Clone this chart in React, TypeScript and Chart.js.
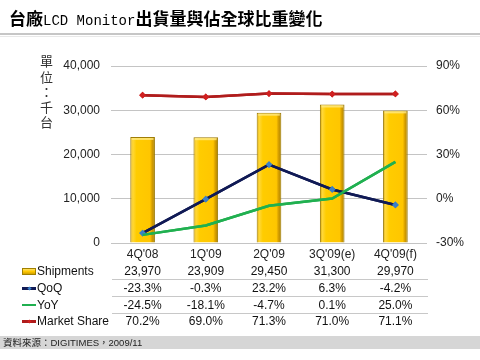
import React, { useEffect, useRef, useState } from "react";
import { Chart, registerables } from "chart.js";

Chart.register(...registerables);

const titleCjk1 = "台廠";
const titleLatin = "LCD Monitor";
const titleCjk2 = "出貨量與佔全球比重變化";
const unitLabel = "單位：千台";
const sourceNote = "資料來源：DIGITIMES，2009/11";

const categories = ["4Q'08", "1Q'09", "2Q'09", "3Q'09(e)", "4Q'09(f)"];
const shipments = [23970, 23909, 29450, 31300, 29970];
const qoq = [-23.3, -0.3, 23.2, 6.3, -4.2];
const yoy = [-24.5, -18.1, -4.7, 0.1, 25.0];
const marketShare = [70.2, 69.0, 71.3, 71.0, 71.1];
const leftTicks = [0, 10000, 20000, 30000, 40000];
const rightTicks = [-30, 0, 30, 60, 90];

const FONT = "'Liberation Sans', Arial, sans-serif";
const CJK = "'Noto Sans CJK TC', 'Noto Sans CJK SC', sans-serif";

const BAR_PCT = 0.39;

const fmtNum = (v: number) => v.toLocaleString("en-US");
const fmtPct = (v: number) => v.toFixed(1) + "%";

type RowDef = { label: string; values: string[]; icon: string };

const rows: RowDef[] = [
  { label: "Shipments", values: shipments.map(fmtNum), icon: "bar" },
  { label: "QoQ", values: qoq.map(fmtPct), icon: "qoq" },
  { label: "YoY", values: yoy.map(fmtPct), icon: "yoy" },
  { label: "Market Share", values: marketShare.map(fmtPct), icon: "ms" },
];

function Icon({ kind }: { kind: string }) {
  const base: React.CSSProperties = { position: "absolute", left: 0, top: 0 };
  if (kind === "bar") {
    return (
      <div style={{ position: "relative", width: 14, height: 10 }}>
        <div
          style={{
            ...base,
            top: 2,
            width: 12,
            height: 5,
            background: "linear-gradient(to bottom, #ffe066, #ffc800 50%, #d0a000)",
            border: "1px solid #a08000",
          }}
        />
      </div>
    );
  }
  const color = kind === "qoq" ? "#101a55" : kind === "yoy" ? "#20b050" : "#b01c1c";
  const marker = kind === "qoq" ? "#3a7fc8" : kind === "ms" ? "#d02020" : null;
  return (
    <div style={{ position: "relative", width: 14, height: 10 }}>
      <div style={{ ...base, top: 4, width: 14, height: 2.5, background: color }} />
      {marker && (
        <div
          style={{
            ...base,
            left: 5.5,
            top: 3.5,
            width: 3,
            height: 3,
            background: marker,
            transform: "rotate(45deg)",
          }}
        />
      )}
    </div>
  );
}

const barCapPlugin = {
  id: "barCap",
  afterDatasetsDraw(chart: any) {
    const meta = chart.getDatasetMeta(3);
    if (!meta || !meta.data) return;
    const ctx = chart.ctx;
    ctx.save();
    meta.data.forEach((el: any) => {
      const w = el.width;
      const x0 = el.x - w / 2;
      ctx.fillStyle = "rgba(255,236,140,0.75)";
      ctx.fillRect(x0 + 1.5, el.y + 1, w - 3, 2);
    });
    ctx.restore();
    // redraw lines over the caps
    [2, 1, 0].forEach((i) => {
      const m = chart.getDatasetMeta(i);
      if (m && m.controller) m.controller.draw();
    });
  },
};

export default function App() {
  const canvasRef = useRef<HTMLCanvasElement | null>(null);
  const [centers, setCenters] = useState<number[]>([]);

  useEffect(() => {
    if (!canvasRef.current) return;
    const barFill = (ctx: any) => {
      const chart = ctx.chart;
      const area = chart.chartArea;
      const xs = chart.scales && chart.scales.x;
      if (!area || !xs) return "#ffc800";
      const cx = xs.getPixelForValue(ctx.dataIndex);
      const w = (area.width / categories.length) * BAR_PCT;
      const g = chart.ctx.createLinearGradient(cx - w / 2, 0, cx + w / 2, 0);
      g.addColorStop(0, "#d9a400");
      g.addColorStop(0.1, "#ffd83a");
      g.addColorStop(0.25, "#ffcc00");
      g.addColorStop(0.8, "#ffc600");
      g.addColorStop(0.88, "#d8a000");
      g.addColorStop(1, "#a88000");
      return g;
    };

    const chart = new Chart(canvasRef.current, {
      type: "bar",
      data: {
        labels: categories,
        datasets: [
          {
            type: "line",
            label: "Market Share",
            data: marketShare,
            yAxisID: "y2",
            borderColor: "#b01c1c",
            borderWidth: 2.5,
            pointRadius: 1.6,
            pointStyle: "rectRot",
            pointBackgroundColor: "#d02020",
            pointBorderColor: "#d02020",
            tension: 0,
            order: 0,
          },
          {
            type: "line",
            label: "YoY",
            data: yoy,
            yAxisID: "y2",
            borderColor: "#20b050",
            borderWidth: 2.5,
            pointRadius: 0,
            tension: 0,
            order: 1,
          },
          {
            type: "line",
            label: "QoQ",
            data: qoq,
            yAxisID: "y2",
            borderColor: "#101a55",
            borderWidth: 2.5,
            pointRadius: 1.6,
            pointStyle: "rectRot",
            pointBackgroundColor: "#3a7fc8",
            pointBorderColor: "#3a7fc8",
            tension: 0,
            order: 2,
          },
          {
            type: "bar",
            label: "Shipments",
            data: shipments,
            yAxisID: "y",
            backgroundColor: barFill,
            borderColor: "#9a7800",
            borderWidth: 1,
            barPercentage: BAR_PCT,
            categoryPercentage: 1,
            order: 3,
          },
        ],
      } as any,
      options: {
        responsive: false,
        animation: false,
        layout: { padding: { top: 66, bottom: 97, left: 0, right: 0 } },
        plugins: { legend: { display: false }, tooltip: { enabled: false } },
        scales: {
          x: {
            grid: { display: false, drawTicks: false },
            border: { display: false },
            ticks: {
              font: { family: FONT, size: 12 },
              color: "#222",
              padding: 4,
              maxRotation: 0,
              autoSkip: false,
            },
            afterFit: (s: any) => {
              s.height = 20;
            },
          },
          y: {
            position: "left",
            min: 0,
            max: 40000,
            afterBuildTicks: (s: any) => {
              s.ticks = leftTicks.map((v) => ({ value: v }));
            },
            ticks: {
              callback: (v: any) => fmtNum(Number(v)),
              font: { family: FONT, size: 12 },
              color: "#222",
              padding: 11,
            },
            grid: { color: "#c4c4c4", drawTicks: false, lineWidth: 1 },
            border: { display: false },
            afterFit: (s: any) => {
              s.width = 111;
            },
          },
          y2: {
            position: "right",
            min: -30,
            max: 90,
            afterBuildTicks: (s: any) => {
              s.ticks = rightTicks.map((v) => ({ value: v }));
            },
            ticks: {
              callback: (v: any) => v + "%",
              font: { family: FONT, size: 12 },
              color: "#222",
              padding: 9,
            },
            grid: { display: false, drawTicks: false },
            border: { display: false },
            afterFit: (s: any) => {
              s.width = 53;
            },
          },
        },
      } as any,
      plugins: [barCapPlugin as any],
    });

    const xs: any = chart.scales.x;
    setCenters(categories.map((_, i) => xs.getPixelForValue(i)));

    return () => {
      chart.destroy();
    };
  }, []);

  const rowTops = [271, 288, 304.5, 321];
  const lineTops = [279, 296, 312.5];

  return (
    <div
      style={{
        position: "fixed",
        left: 0,
        top: 0,
        width: 480,
        height: 360,
        background: "#fff",
        overflow: "hidden",
        fontFamily: FONT,
      }}
    >
      <canvas
        ref={canvasRef}
        width={480}
        height={360}
        style={{ position: "absolute", left: 0, top: 0, width: 480, height: 360 }}
      />

      <div
        style={{
          position: "absolute",
          left: 9,
          top: 7,
          height: 22,
          lineHeight: "22px",
          whiteSpace: "nowrap",
          color: "#000",
        }}
      >
        <span style={{ fontFamily: CJK, fontWeight: 700, fontSize: 17 }}>{titleCjk1}</span>
        <span style={{ fontFamily: "'Liberation Mono', monospace", fontSize: 14, letterSpacing: 0 }}>
          {titleLatin}
        </span>
        <span style={{ fontFamily: CJK, fontWeight: 700, fontSize: 17 }}>{titleCjk2}</span>
      </div>
      <div style={{ position: "absolute", left: 0, top: 33, width: 480, height: 2, background: "#c6c6c6" }} />
      <div style={{ position: "absolute", left: 0, top: 36, width: 480, height: 1, background: "#e8e8e8" }} />

      <div
        style={{
          position: "absolute",
          left: 39,
          top: 55,
          writingMode: "vertical-rl",
          fontFamily: CJK,
          fontSize: 13,
          letterSpacing: 2.2,
          lineHeight: "14px",
          color: "#333",
        }}
      >
        {unitLabel}
      </div>

      {lineTops.map((t, i) => (
        <div
          key={"l" + i}
          style={{ position: "absolute", left: 112, top: t, width: 316, height: 1, background: "#c8c8c8" }}
        />
      ))}

      {rows.map((r, ri) => (
        <React.Fragment key={r.label}>
          <div
            style={{
              position: "absolute",
              left: 22,
              top: rowTops[ri] - 5,
              width: 14,
              height: 10,
            }}
          >
            <Icon kind={r.icon} />
          </div>
          <div
            style={{
              position: "absolute",
              left: 37,
              top: rowTops[ri] - 8,
              height: 16,
              lineHeight: "16px",
              fontSize: 12,
              color: "#111",
              whiteSpace: "nowrap",
            }}
          >
            {r.label}
          </div>
          {centers.length > 0 &&
            r.values.map((v, ci) => (
              <div
                key={ci}
                style={{
                  position: "absolute",
                  left: centers[ci] - 40,
                  width: 80,
                  textAlign: "center",
                  top: rowTops[ri] - 8,
                  height: 16,
                  lineHeight: "16px",
                  fontSize: 12,
                  color: "#111",
                  whiteSpace: "nowrap",
                }}
              >
                {v}
              </div>
            ))}
        </React.Fragment>
      ))}

      <div
        style={{
          position: "absolute",
          left: 0,
          top: 336,
          width: 480,
          height: 13,
          background: "#d6d6d6",
        }}
      />
      <div
        style={{
          position: "absolute",
          left: 3,
          top: 336,
          height: 13,
          lineHeight: "13px",
          fontSize: 9.5,
          color: "#222",
          whiteSpace: "nowrap",
          fontFamily: FONT + ", " + CJK,
        }}
      >
        {sourceNote}
      </div>
    </div>
  );
}
